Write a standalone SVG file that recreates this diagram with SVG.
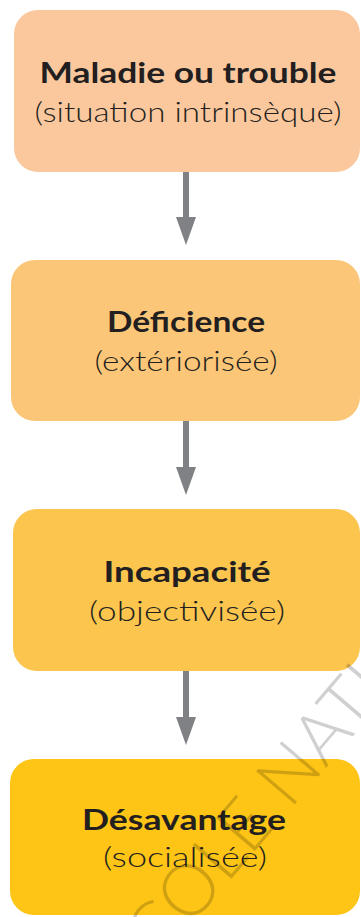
<svg xmlns="http://www.w3.org/2000/svg" width="361" height="917" viewBox="0 0 361 917">
<style>
.title{font-family:"Lato","Open Sans","DejaVu Sans",sans-serif;font-weight:700;font-size:29px;fill:#231f20;text-anchor:middle}
.sub{font-family:"Lato","Open Sans","DejaVu Sans",sans-serif;font-weight:300;font-size:28px;fill:#231f20;text-anchor:middle}
.conn{stroke:#808184;stroke-width:6;fill:none}
.wm{font-family:"Lato","DejaVu Sans",sans-serif;font-weight:300;font-size:72px;fill:#000;opacity:0.18}
</style>
<defs>
<marker id="ah" markerUnits="userSpaceOnUse" viewBox="0 -11 30 22" markerWidth="30" markerHeight="22" refX="13" refY="0" orient="auto">
<path d="M0,-10 L28,0 L0,10 Z" fill="#808184"/>
</marker>
</defs>
<rect width="361" height="917" fill="#ffffff"/>
<g id="connectors">
<line class="conn" x1="186" y1="172" x2="186" y2="230" marker-end="url(#ah)"/>
<line class="conn" x1="186" y1="421" x2="186" y2="480" marker-end="url(#ah)"/>
<line class="conn" x1="186" y1="671" x2="186" y2="730" marker-end="url(#ah)"/>
</g>
<g id="node1">
<rect x="14" y="10" width="346" height="162" rx="24" fill="#fbc89e"/>
<text class="title" x="188" y="83" textLength="297" lengthAdjust="spacingAndGlyphs">Maladie ou trouble</text>
<text class="sub" x="188" y="122" textLength="307" lengthAdjust="spacingAndGlyphs">(situation intrinsèque)</text>
</g>
<g id="node2">
<rect x="11" y="260" width="349" height="161" rx="24" fill="#fbc677"/>
<text class="title" x="186" y="332" textLength="158" lengthAdjust="spacingAndGlyphs">Déficience</text>
<text class="sub" x="186" y="371" textLength="183" lengthAdjust="spacingAndGlyphs">(extériorisée)</text>
</g>
<g id="node3">
<rect x="13" y="509" width="347" height="162" rx="24" fill="#fcc54e"/>
<text class="title" x="187" y="582" textLength="167" lengthAdjust="spacingAndGlyphs">Incapacité</text>
<text class="sub" x="187" y="621" textLength="196" lengthAdjust="spacingAndGlyphs">(objectivisée)</text>
</g>
<g id="node4">
<rect x="10" y="759" width="350" height="156" rx="24" fill="#fec516"/>
<text class="title" x="184" y="830" textLength="204" lengthAdjust="spacingAndGlyphs">Désavantage</text>
<text class="sub" x="185" y="867" textLength="164" lengthAdjust="spacingAndGlyphs">(socialisée)</text>
</g>
<text class="wm" transform="translate(132,995) rotate(-49.5)">ÉCOLE NATIONALE</text>
</svg>
